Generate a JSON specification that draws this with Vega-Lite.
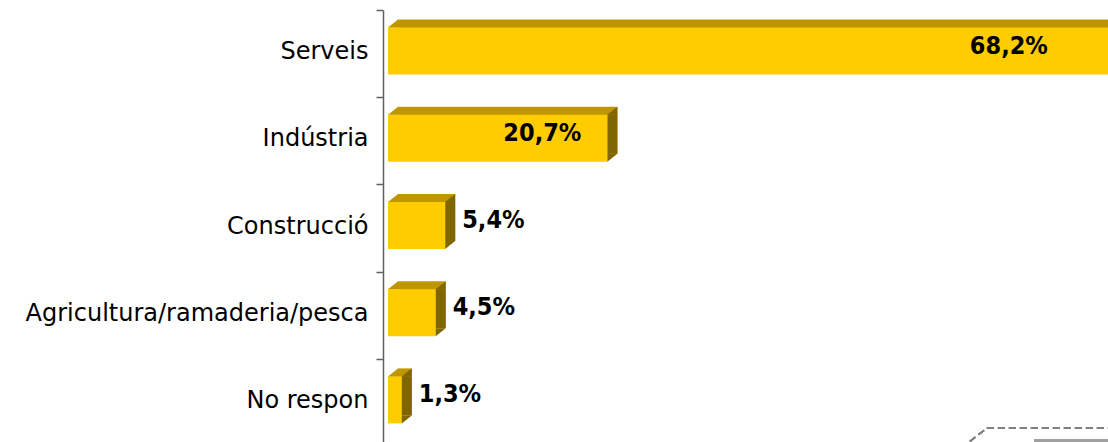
{
  "$schema": "https://vega.github.io/schema/vega-lite/v6.json",
  "width": 725,
  "height": 432,
  "autosize": {"type": "none"},
  "padding": {"left": 383, "top": 10, "right": 0, "bottom": 0},
  "background": "white",
  "config": {"view": {"stroke": null}},
  "data": {"values": [
    {"sector": "Serveis", "pct": 68.2, "label": "68,2%"},
    {"sector": "Indústria", "pct": 20.7, "label": "20,7%"},
    {"sector": "Construcció", "pct": 5.4, "label": "5,4%"},
    {"sector": "Agricultura/ramaderia/pesca", "pct": 4.5, "label": "4,5%"},
    {"sector": "No respon", "pct": 1.3, "label": "1,3%"}
  ]},
  "encoding": {
    "y": {
      "field": "sector", "type": "nominal", "sort": null,
      "scale": {"range": [0, 436], "paddingInner": 0, "paddingOuter": 0},
      "axis": {
        "title": null, "domainColor": "#606060", "domainWidth": 1.5,
        "tickColor": "#606060", "tickWidth": 1.5, "tickSize": 7, "tickBand": "extent",
        "labelFont": "DejaVu Sans", "labelFontSize": 24, "labelColor": "black",
        "labelPadding": 8, "labelOffset": -2, "labelLimit": 400
      }
    },
    "x": {"field": "pct", "type": "quantitative", "scale": {"domain": [-0.47, 67.93], "nice": false, "zero": false}, "axis": null}
  },
  "layer": [
    {"mark": {"type": "bar", "color": "#C09600", "height": 47, "xOffset": 10, "x2Offset": 10, "yOffset": -10.5, "clip": true},
     "encoding": {"x2": {"datum": 0}}},
    {"mark": {"type": "bar", "color": "#806600", "height": 39, "yOffset": -6.5, "x2Offset": 10, "clip": true},
     "encoding": {"x2": {"field": "pct"}}},
    {"mark": {"type": "bar", "color": "#FFCC00", "height": 47, "yOffset": -2.5, "clip": true},
     "encoding": {"x2": {"datum": 0}}},
    {"mark": {"type": "point", "shape": "M0,0L1,-0.8L1,0Z", "size": 400, "filled": true, "color": "#C09600", "opacity": 1, "strokeWidth": 0, "yOffset": -26},
     "encoding": {"x": {"datum": 0, "type": "quantitative"}}},
    {"mark": {"type": "point", "shape": "M0,0L1,-0.8L1,0Z", "size": 400, "filled": true, "color": "#806600", "opacity": 1, "strokeWidth": 0, "yOffset": -26, "clip": true}},
    {"mark": {"type": "point", "shape": "M0,-0.8L0,0L1,-0.8Z", "size": 400, "filled": true, "color": "#806600", "opacity": 1, "strokeWidth": 0, "yOffset": 21, "clip": true}},
    {"transform": [{"filter": "datum.sector === 'Serveis'"}],
     "mark": {"type": "text", "font": "DejaVu Sans Condensed", "fontWeight": "bold", "fontSize": 25, "color": "black", "align": "right", "baseline": "alphabetic", "dx": -63},
     "encoding": {"text": {"field": "label"}}},
    {"transform": [{"filter": "datum.sector === 'Indústria'"}],
     "mark": {"type": "text", "font": "DejaVu Sans Condensed", "fontWeight": "bold", "fontSize": 25, "color": "black", "align": "right", "baseline": "alphabetic", "dx": -26},
     "encoding": {"text": {"field": "label"}}},
    {"transform": [{"filter": "datum.pct < 10"}],
     "mark": {"type": "text", "font": "DejaVu Sans Condensed", "fontWeight": "bold", "fontSize": 25, "color": "black", "align": "left", "baseline": "alphabetic", "dx": 17},
     "encoding": {"text": {"field": "label"}}},
    {"mark": {"type": "rule", "color": "#808080", "strokeWidth": 1.5, "strokeDash": [7, 4], "yOffset": 25.7},
     "encoding": {"x": {"datum": 56.5}, "x2": {"datum": 67.93}, "y": {"datum": "No respon"}}},
    {"mark": {"type": "rule", "color": "#808080", "strokeWidth": 1.5, "strokeDash": [7, 4], "yOffset": 39, "y2Offset": 25.7},
     "encoding": {"x": {"datum": 54.9}, "x2": {"datum": 56.5}, "y": {"datum": "No respon"}, "y2": {"datum": "No respon"}}},
    {"mark": {"type": "bar", "color": "#A0A0A0", "height": 12, "yOffset": 42.7},
     "encoding": {"x": {"datum": 61.0}, "x2": {"datum": 67.93}, "y": {"datum": "No respon"}}}
  ]
}
